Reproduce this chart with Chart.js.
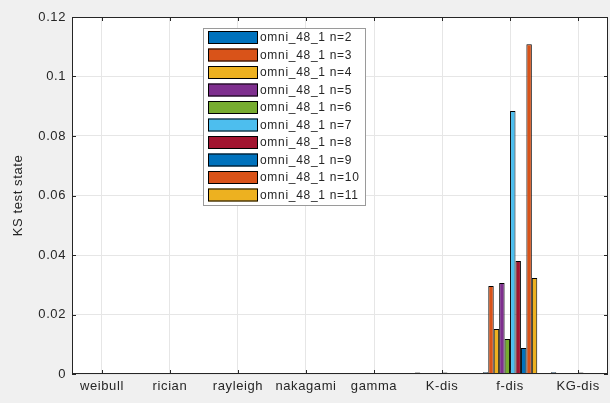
<!DOCTYPE html>
<html>
<head>
<meta charset="utf-8">
<script src="https://cdn.jsdelivr.net/npm/chart.js@4/dist/chart.umd.min.js"></script>
<style>
  html, body { margin: 0; padding: 0; background: #f0f0f0; }
  #box { width: 610px; height: 403px; }
</style>
</head>
<body>
<div id="box"><canvas id="myChart" width="610" height="403"></canvas></div>
<script>
const categories = ['weibull','rician','rayleigh','nakagami','gamma','K-dis','f-dis','KG-dis'];
const seriesNames = ['omni_48_1 n=2','omni_48_1 n=3','omni_48_1 n=4','omni_48_1 n=5','omni_48_1 n=6',
                     'omni_48_1 n=7','omni_48_1 n=8','omni_48_1 n=9','omni_48_1 n=10','omni_48_1 n=11'];
const n2  = [0, 0, 0, 0, 0, 0.0005, 0.0006, 0.0006];
const n3  = [0, 0, 0, 0, 0, 0, 0.0296, 0];
const n4  = [0, 0, 0, 0, 0, 0, 0.0151, 0];
const n5  = [0, 0, 0, 0, 0, 0, 0.0306, 0];
const n6  = [0, 0, 0, 0, 0, 0, 0.0118, 0];
const n7  = [0, 0, 0, 0, 0, 0.0005, 0.0884, 0.0005];
const n8  = [0, 0, 0, 0, 0, 0, 0.0380, 0];
const n9  = [0, 0, 0, 0, 0, 0, 0.0087, 0];
const n10 = [0, 0, 0, 0, 0, 0, 0.1108, 0];
const n11 = [0, 0, 0, 0, 0, 0, 0.0323, 0];
const yTicks = [0, 0.02, 0.04, 0.06, 0.08, 0.1, 0.12];
const colors = ['#0072BD','#D95319','#EDB120','#7E2F8E','#77AC30','#4DBEEE','#A2142F','#0072BD','#D95319','#EDB120'];

const series = [n2, n3, n4, n5, n6, n7, n8, n9, n10, n11];
const textColor = '#262626';
const fontFamily = '"Liberation Sans", Arial, sans-serif';

// white plot area on the grey figure, box outline and inward ticks
const axesBox = {
  id: 'axesBox',
  beforeDraw(chart) {
    const {ctx, chartArea: a} = chart;
    ctx.save();
    ctx.fillStyle = '#f0f0f0';
    ctx.fillRect(0, 0, chart.width, chart.height);
    ctx.fillStyle = '#ffffff';
    ctx.fillRect(a.left, a.top, a.right - a.left, a.bottom - a.top);
    ctx.restore();
    ctx.letterSpacing = '0.6px';
  },
  afterDatasetsDraw(chart) {
    const {ctx, chartArea: a, scales} = chart;
    ctx.save();
    ctx.strokeStyle = textColor;
    ctx.lineWidth = 1;
    ctx.strokeRect(a.left + 0.5, a.top + 0.5, a.right - a.left - 1, a.bottom - a.top - 1);
    ctx.beginPath();
    categories.forEach((c, i) => {
      const x = Math.round(scales.x.getPixelForValue(i + 1)) + 0.5;
      ctx.moveTo(x, a.bottom); ctx.lineTo(x, a.bottom - 4);
      ctx.moveTo(x, a.top); ctx.lineTo(x, a.top + 4);
    });
    yTicks.forEach(v => {
      const y = Math.round(scales.y.getPixelForValue(v)) + 0.5;
      ctx.moveTo(a.left, y); ctx.lineTo(a.left + 4, y);
      ctx.moveTo(a.right, y); ctx.lineTo(a.right - 4, y);
    });
    ctx.stroke();
    ctx.restore();
  },
  afterDraw(chart) {
    // legend box inside the axes
    const {ctx} = chart;
    const lx = 203, ly = 28, lw = 162, lh = 177;
    ctx.save();
    ctx.fillStyle = '#ffffff';
    ctx.fillRect(lx, ly, lw, lh);
    ctx.strokeStyle = '#9a9a9a';
    ctx.lineWidth = 1;
    ctx.strokeRect(lx + 0.5, ly + 0.5, lw, lh);
    ctx.font = '12px ' + fontFamily;
    ctx.letterSpacing = '0.7px';
    ctx.textBaseline = 'middle';
    chart.data.datasets.forEach((ds, i) => {
      const y = ly + 3 + i * 17.5;
      ctx.fillStyle = ds.backgroundColor;
      ctx.fillRect(lx + 5, y, 50, 13);
      ctx.strokeStyle = '#000000';
      ctx.strokeRect(lx + 5.5, y + 0.5, 49, 12);
      ctx.fillStyle = textColor;
      ctx.fillText(ds.label, lx + 57, y + 7);
    });
    ctx.restore();
  }
};

const datasets = series.map((values, i) => ({
  label: seriesNames[i],
  data: values.map((v, j) => ({x: j + 1, y: v})),
  backgroundColor: colors[i],
  borderColor: '#000000',
  borderWidth: 1,
  borderSkipped: 'bottom',
  categoryPercentage: 0.8,
  barPercentage: 1.0
}));

new Chart(document.getElementById('myChart'), {
  type: 'bar',
  data: { datasets },
  plugins: [axesBox],
  options: {
    responsive: false,
    animation: false,
    layout: { padding: { top: 17, right: 2, left: 0, bottom: 0 } },
    plugins: { legend: { display: false }, tooltip: { enabled: false } },
    scales: {
      x: {
        type: 'linear',
        offset: false,
        min: 0.56,
        max: 8.44,
        afterBuildTicks: scale => { scale.ticks = categories.map((c, i) => ({value: i + 1})); },
        afterFit: scale => { scale.height = 29; },
        grid: { color: '#e6e6e6', drawTicks: false, offset: false },
        border: { display: false },
        ticks: {
          padding: 5,
          autoSkip: false,
          maxRotation: 0,
          color: textColor,
          font: { size: 13, family: fontFamily },
          callback: v => categories[Math.round(v) - 1]
        }
      },
      y: {
        min: 0,
        max: 0.12,
        afterBuildTicks: scale => { scale.ticks = yTicks.map(v => ({value: v})); },
        afterFit: scale => { scale.width = 72; },
        grid: { color: '#e6e6e6', drawTicks: false },
        border: { display: false },
        ticks: {
          padding: 6,
          color: textColor,
          font: { size: 13, family: fontFamily },
          callback: v => String(+v.toFixed(2))
        },
        title: {
          display: true,
          text: 'KS test state',
          color: textColor,
          padding: { top: 11, bottom: 0 },
          font: { size: 13, family: fontFamily }
        }
      }
    }
  }
});
</script>
</body>
</html>
